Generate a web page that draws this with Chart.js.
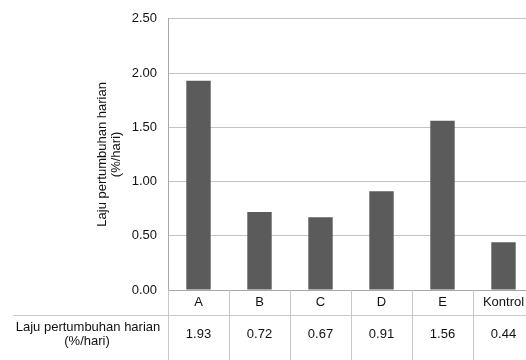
<!DOCTYPE html>
<html>
<head>
<meta charset="utf-8">
<script src="https://cdn.jsdelivr.net/npm/chart.js@4/dist/chart.umd.min.js"></script>
<style>
  html, body { margin: 0; padding: 0; background: #fff; overflow: hidden; }
  #wrap { width: 540px; height: 360px; }
</style>
</head>
<body>
<div id="wrap"><canvas id="c" width="540" height="360"></canvas></div>
<script>
// Daily growth rate per treatment
const categories = ['A', 'B', 'C', 'D', 'E', 'Kontrol'];
const growthRate = [1.93, 0.72, 0.67, 0.91, 1.56, 0.44];
const yTicks = [0, 0.5, 1.0, 1.5, 2.0, 2.5];
const seriesLabel = ['Laju pertumbuhan harian', '(%/hari)'];

const FONT = "'Liberation Sans', Arial, sans-serif";
const TEXT = '#111';
const GRID = '#c4c4c4';
const TABLE_LINE = '#c8c8c8';

// Draws the data table under the category row
const dataTable = {
  id: 'dataTable',
  afterDraw(chart) {
    const { ctx, chartArea } = chart;
    const x = chart.scales.x;
    const n = categories.length;
    const w = (chartArea.right - chartArea.left) / n;
    const top = chartArea.bottom;
    const rowLine = top + 25;
    const bottom = chart.height;
    ctx.save();
    ctx.strokeStyle = TABLE_LINE;
    ctx.lineWidth = 1;
    // vertical separators between categories
    for (let i = 0; i <= n; i++) {
      const px = Math.round(x.getPixelForValue(i) - w / 2) + 0.5;
      ctx.beginPath();
      ctx.moveTo(px, top);
      ctx.lineTo(px, bottom);
      ctx.stroke();
    }
    // line between header row and value row
    ctx.beginPath();
    ctx.moveTo(13, rowLine + 0.5);
    ctx.lineTo(chartArea.right, rowLine + 0.5);
    ctx.stroke();

    ctx.fillStyle = TEXT;
    ctx.font = '13px ' + FONT;
    ctx.textAlign = 'center';
    ctx.textBaseline = 'middle';
    growthRate.forEach((v, i) => {
      ctx.fillText(v.toFixed(2), x.getPixelForValue(i), rowLine + 19);
    });
    ctx.fillText(seriesLabel[0], 88, rowLine + 12);
    ctx.fillText(seriesLabel[1], 87, rowLine + 26);
    ctx.restore();
  }
};

new Chart(document.getElementById('c'), {
  type: 'bar',
  data: {
    labels: categories,
    datasets: [{
      label: seriesLabel.join(' '),
      data: growthRate,
      backgroundColor: '#5b5b5b',
      borderWidth: 0,
      categoryPercentage: 1,
      barPercentage: 0.4
    }]
  },
  options: {
    responsive: false,
    animation: false,
    layout: { padding: { top: 16, right: 6, left: 0, bottom: 0 } },
    plugins: { legend: { display: false }, tooltip: { enabled: false } },
    scales: {
      x: {
        grid: { display: false, drawTicks: false },
        border: { color: '#a8a8a8' },
        ticks: { color: TEXT, font: { family: FONT, size: 13 }, padding: 5 },
        afterFit(s) { s.height = 70; }
      },
      y: {
        min: 0,
        max: 2.5,
        afterBuildTicks(s) { s.ticks = yTicks.map(v => ({ value: v })); },
        grid: { color: GRID, drawTicks: false },
        border: { color: '#a8a8a8' },
        ticks: {
          color: TEXT,
          font: { family: FONT, size: 13 },
          padding: 11,
          callback: v => Number(v).toFixed(2)
        },
        title: {
          display: true,
          text: seriesLabel,
          color: TEXT,
          font: { family: FONT, size: 13, lineHeight: 1.08 },
          padding: { top: 95, bottom: 0 }
        },
        afterFit(s) { s.width = 168; }
      }
    }
  },
  plugins: [dataTable]
});
</script>
</body>
</html>
